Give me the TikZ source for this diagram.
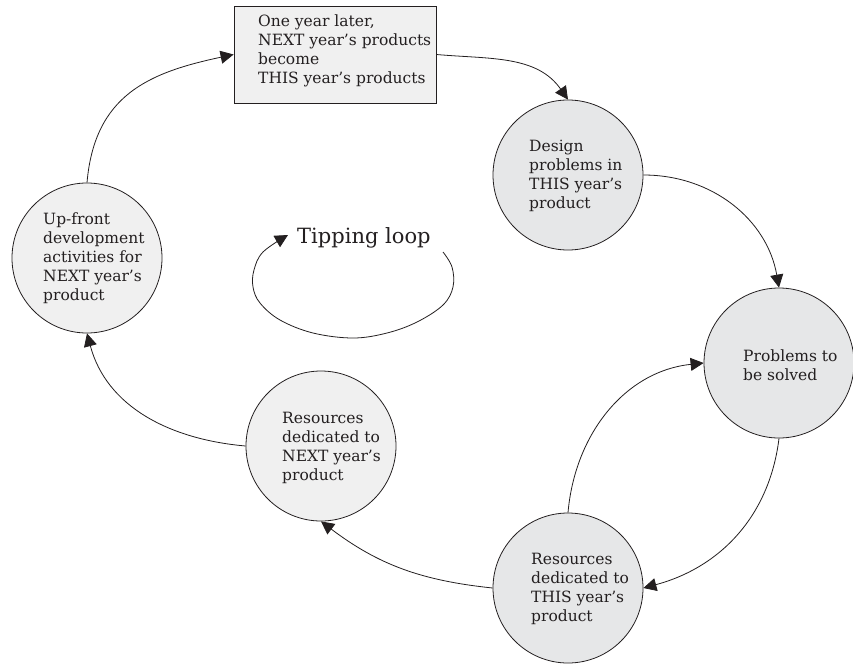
\documentclass[tikz,border=0pt]{standalone}
\usepackage{fontspec}
\setmainfont{DejaVu Serif}
\usetikzlibrary{arrows.meta}
\definecolor{ink}{HTML}{231F20}
\definecolor{paleA}{HTML}{F0F0F0}
\definecolor{paleB}{HTML}{E6E7E8}

\begin{document}
\begin{tikzpicture}[x=1pt,y=1pt,
  stage/.style={circle, draw=ink, line width=0.8pt, minimum size=150pt, inner sep=0pt},
  stagebox/.style={rectangle, draw=ink, line width=0.8pt, fill=paleA,
    minimum width=202pt, minimum height=97pt, inner sep=0pt},
  stagetext/.style={anchor=west, align=left, inner sep=0pt, text=ink,
    font=\fontsize{15.5}{19}\selectfont},
  flow/.style={draw=ink, line width=0.8pt, -{Triangle[length=13pt,width=13pt]}},
]
\useasboundingbox (0,0) rectangle (853,-664);

% stages of the cycle
\node[stagebox] (box) at (335,-54.5) {};
\node[stage, fill=paleA] (upfront) at (87,-258) {};
\node[stage, fill=paleB] (design) at (568,-175) {};
\node[stage, fill=paleB] (problems) at (779,-363) {};
\node[stage, fill=paleB] (resthis) at (568,-588) {};
\node[stage, fill=paleA] (resnext) at (321,-446) {};

% texts of the stages
\node[stagetext] (box-text) at (258,-51)
  {One year later,\\NEXT year’s products\\become\\THIS year’s products};
\node[stagetext] (upfront-text) at (43,-258)
  {Up-front\\development\\activities for\\NEXT year’s\\product};
\node[stagetext] (design-text) at (529,-176)
  {Design\\problems in\\THIS year’s\\product};
\node[stagetext] (problems-text) at (743,-365)
  {Problems to\\be solved};
\node[stagetext] (resthis-text) at (531,-589)
  {Resources\\dedicated to\\THIS year’s\\product};
\node[stagetext] (resnext-text) at (282,-448)
  {Resources\\dedicated to\\NEXT year’s\\product};

% connectors
\draw[flow] (upfront.90) to[out=85,in=192,looseness=1.15] (box.west);
\draw[flow] (box.east) to[out=-5,in=125] (design.90);
\draw[flow] (design.0) to[out=0,in=100] (problems.90);
\draw[flow] (resthis.90) to[out=85,in=186] (problems.180);
\draw[flow] (problems.270) to[out=-97,in=15] (resthis.0);
\draw[flow] (resthis.180) to[out=174,in=-37] (resnext.270);
\draw[flow] (resnext.180) to[out=175,in=-75] (upfront.270);

% the tipping loop
\node[anchor=base west, inner sep=0pt, text=ink, font=\fontsize{21}{25}\selectfont]
  (tip-text) at (297,-243) {Tipping loop};
\draw[flow] plot[smooth, tension=0.6] coordinates {
  (443,-252) (452,-267) (453,-287) (443,-305) (417,-322) (387,-333)
  (353,-338) (313,-333) (280,-320) (260,-303) (253,-287) (254,-270)
  (263,-252) (288,-235)};
\end{tikzpicture}
\end{document}
